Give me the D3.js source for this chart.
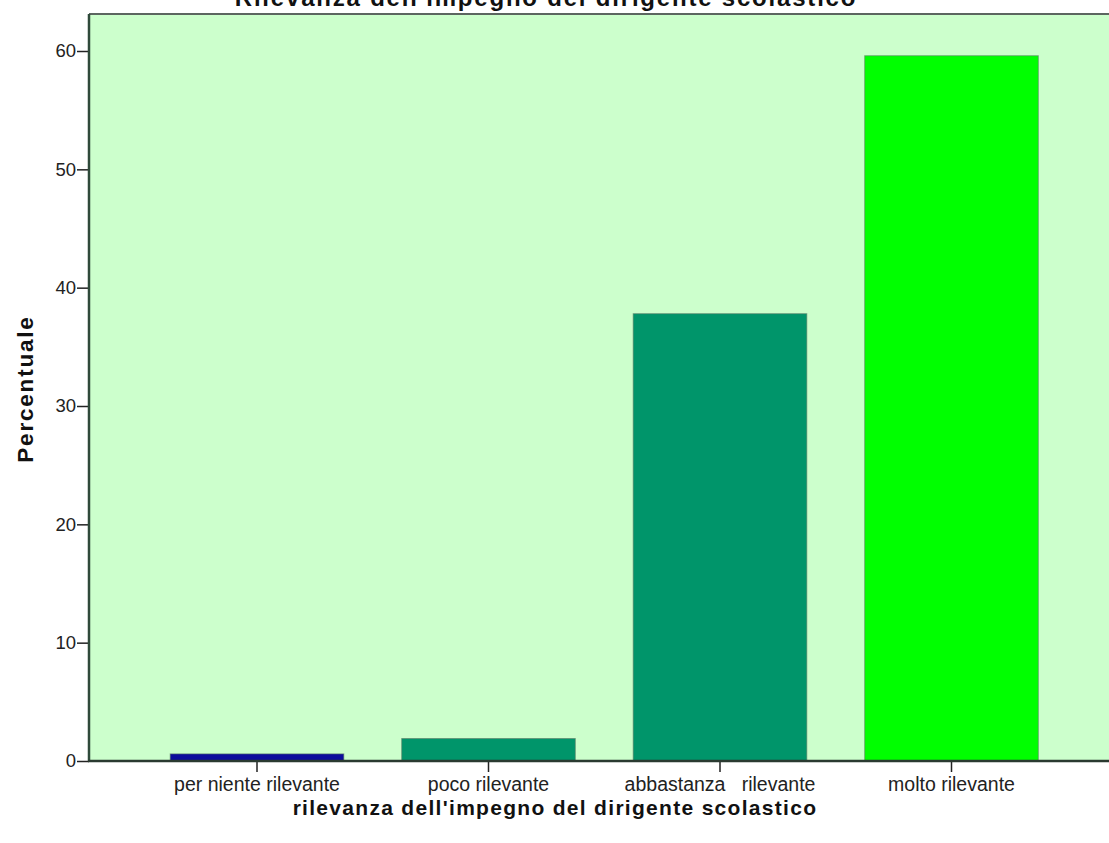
<!DOCTYPE html>
<html>
<head>
<meta charset="utf-8">
<script src="https://cdn.jsdelivr.net/npm/d3@7"></script>
<style>
  body { margin: 0; background: #fff; }
  svg { display: block; font-family: "Liberation Sans", Arial, sans-serif; }
</style>
</head>
<body>
<div id="chart"></div>
<script>
const width = 1109;
const height = 843;

// data
const categories = ["per niente rilevante", "poco rilevante", "abbastanza   rilevante", "molto rilevante"];
const percentages = [0.6, 1.9, 37.8, 59.6];
const barColors = ["#0c0c9c", "#00956a", "#00956a", "#00ff00"];
const yTicks = [0, 10, 20, 30, 40, 50, 60];

const plotLeft = 89, plotTop = 14, plotBottom = 761, plotRight = 1112;

const svg = d3.select("#chart")
  .append("svg")
  .attr("width", width)
  .attr("height", height);

svg.append("rect")
  .attr("x", plotLeft)
  .attr("y", plotTop)
  .attr("width", plotRight - plotLeft)
  .attr("height", plotBottom - plotTop)
  .attr("fill", "#ccffcc");

const x = d3.scaleBand()
  .domain(categories)
  .range([141.25, 1067.25])
  .paddingInner(0.25)
  .paddingOuter(0.125);

const y = d3.scaleLinear()
  .domain([0, 60])
  .range([plotBottom, 51]);

svg.selectAll(".bar")
  .data(categories)
  .enter().append("rect")
  .attr("class", "bar")
  .attr("x", d => x(d))
  .attr("y", (d, i) => y(percentages[i]))
  .attr("width", x.bandwidth())
  .attr("height", (d, i) => y(0) - y(percentages[i]))
  .attr("fill", (d, i) => barColors[i])
  .attr("stroke", "#5a7a64")
  .attr("stroke-opacity", 0.6)
  .attr("stroke-width", 1);

// frame top line
svg.append("line")
  .attr("x1", plotLeft).attr("x2", width)
  .attr("y1", plotTop).attr("y2", plotTop)
  .attr("stroke", "#5c6660")
  .attr("stroke-width", 2);

const yAxis = svg.append("g")
  .attr("transform", `translate(${plotLeft},0)`)
  .call(d3.axisLeft(y).tickValues(yTicks).tickSize(12).tickPadding(1));
yAxis.select(".domain").remove();
yAxis.selectAll(".tick line").attr("stroke", "#222").attr("stroke-width", 1.5);
yAxis.selectAll(".tick text")
  .attr("fill", "#222")
  .style("font-size", "18.5px")
  .style("font-family", "'Liberation Sans', Arial, sans-serif");

svg.append("line")
  .attr("x1", plotLeft).attr("x2", plotLeft)
  .attr("y1", plotTop).attr("y2", plotBottom)
  .attr("stroke", "#2f4a3a")
  .attr("stroke-width", 2.5);

const xAxis = svg.append("g")
  .attr("transform", `translate(0,${plotBottom})`)
  .call(d3.axisBottom(x).tickSize(11).tickPadding(5));
xAxis.select(".domain").remove();
xAxis.selectAll(".tick line").attr("stroke", "#222").attr("stroke-width", 1.5);
xAxis.selectAll(".tick text")
  .attr("fill", "#222")
  .style("font-size", "19.5px")
  .style("white-space", "pre")
  .style("font-family", "'Liberation Sans', Arial, sans-serif");

svg.append("line")
  .attr("x1", plotLeft - 1).attr("x2", width)
  .attr("y1", plotBottom).attr("y2", plotBottom)
  .attr("stroke", "#2a3a30")
  .attr("stroke-width", 2.5);

// titles
svg.append("text")
  .attr("x", 546)
  .attr("y", 6)
  .attr("text-anchor", "middle")
  .style("font-size", "24px")
  .style("font-weight", "bold")
  .style("letter-spacing", "1.8px")
  .attr("fill", "#111")
  .text("Rilevanza dell'impegno del dirigente scolastico");

svg.append("text")
  .attr("x", 555)
  .attr("y", 815)
  .attr("text-anchor", "middle")
  .style("font-size", "21px")
  .style("font-weight", "bold")
  .style("letter-spacing", "1.3px")
  .attr("fill", "#111")
  .text("rilevanza dell'impegno del dirigente scolastico");

svg.append("text")
  .attr("transform", "translate(33,389) rotate(-90)")
  .attr("text-anchor", "middle")
  .style("font-size", "22.5px")
  .style("font-weight", "bold")
  .style("letter-spacing", "1.8px")
  .attr("fill", "#111")
  .text("Percentuale");
</script>
</body>
</html>
